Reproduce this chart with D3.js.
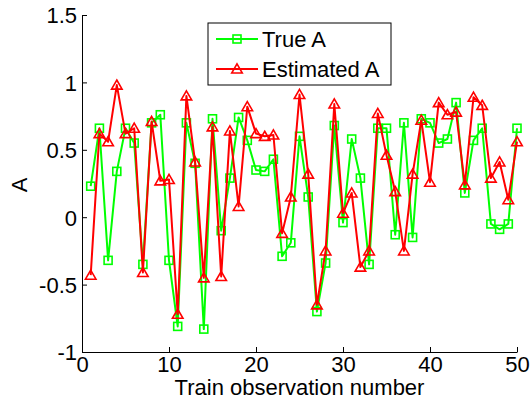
<!DOCTYPE html>
<html>
<head>
<meta charset="utf-8">
<script src="https://cdn.jsdelivr.net/npm/d3@7"></script>
<style>
  body { margin: 0; background: #fff; }
  text { font-family: "Liberation Sans", Arial, sans-serif; fill: #000; }
</style>
</head>
<body>
<div id="chart"></div>
<script>
var obs = d3.range(1, 51);
var trueA = [0.23, 0.66, -0.32, 0.34, 0.66, 0.55, -0.35, 0.70, 0.76, -0.32,
             -0.81, 0.70, 0.40, -0.83, 0.73, -0.10, 0.29, 0.74, 0.57, 0.35,
             0.34, 0.43, -0.29, -0.19, 0.60, 0.15, -0.70, -0.34, 0.68, -0.04,
             0.58, 0.29, -0.35, 0.66, 0.66, -0.13, 0.70, -0.15, 0.73, 0.70,
             0.55, 0.58, 0.85, 0.18, 0.57, 0.66, -0.05, -0.09, -0.05, 0.66];
var estA = [-0.43, 0.62, 0.56, 0.98, 0.62, 0.66, -0.41, 0.71, 0.27, 0.28,
            -0.72, 0.90, 0.41, -0.45, 0.67, -0.44, 0.64, 0.08, 0.82, 0.62,
            0.60, 0.61, -0.12, 0.15, 0.91, 0.32, -0.65, -0.25, 0.84, 0.03,
            0.18, -0.37, -0.25, 0.77, 0.46, 0.19, -0.25, 0.32, 0.72, 0.26,
            0.85, 0.76, 0.78, 0.24, 0.89, 0.83, 0.29, 0.41, 0.13, 0.56];
var xTicks = [0, 10, 20, 30, 40, 50];
var yTicks = [-1, -0.5, 0, 0.5, 1, 1.5];
var seriesNames = ["True A", "Estimated A"];

var totalWidth = 530, totalHeight = 407,
    margin = {top: 15, right: 13, bottom: 55, left: 82},
    width = totalWidth - margin.left - margin.right,
    height = totalHeight - margin.top - margin.bottom;

var x = d3.scaleLinear().domain([0, 50]).range([0, width]),
    y = d3.scaleLinear().domain([-1, 1.5]).range([height, 0]);

var svg = d3.select("#chart").append("svg")
    .attr("width", totalWidth)
    .attr("height", totalHeight)
  .append("g")
    .attr("transform", "translate(" + margin.left + "," + margin.top + ")");

// axes (matlab style: ticks inside, box off)
var fmt = function(d) { return String(d); };   // plain hyphen for negatives
var xAxis = svg.append("g")
    .attr("transform", "translate(0," + height + ")")
    .call(d3.axisBottom(x).tickValues(xTicks).tickSizeInner(-5).tickSizeOuter(0).tickPadding(4).tickFormat(fmt));
var yAxis = svg.append("g")
    .call(d3.axisLeft(y).tickValues(yTicks).tickSizeInner(-5).tickSizeOuter(0).tickPadding(5).tickFormat(fmt));
svg.selectAll(".tick text").style("font-size", "22px").style("font-family", "'Liberation Sans', Arial, sans-serif").attr("fill", "#000");
xAxis.selectAll(".tick text").attr("dy", "0.72em").attr("y", 4);
yAxis.selectAll(".tick text").attr("dy", "0.36em");
svg.selectAll(".domain, .tick line").attr("stroke", "#000").attr("stroke-width", 1);

var colors = ["#00ff00", "#ff0000"];
var data = [trueA, estA];

var line = d3.line()
    .x(function(d, i) { return x(obs[i]); })
    .y(function(d) { return y(d); });

var tri = d3.symbol().type(d3.symbolTriangle).size(48);

function drawMarker(g, kind, cx, cy, col) {
  if (kind == 0) {
    g.append("rect")
      .attr("x", cx - 4).attr("y", cy - 4)
      .attr("width", 8).attr("height", 8)
      .attr("fill", "none").attr("stroke", col).attr("stroke-width", 1.6);
  } else {
    g.append("path")
      .attr("d", tri())
      .attr("transform", "translate(" + cx + "," + (cy + 1) + ")")
      .attr("fill", "none").attr("stroke", col).attr("stroke-width", 1.6)
      .attr("stroke-linejoin", "miter");
  }
}

data.forEach(function(vals, k) {
  svg.append("path")
    .datum(vals)
    .attr("fill", "none")
    .attr("stroke", colors[k])
    .attr("stroke-width", 2)
    .attr("stroke-linejoin", "round")
    .attr("d", line);
  var mg = svg.append("g");
  vals.forEach(function(v, i) { drawMarker(mg, k, x(obs[i]), y(v), colors[k]); });
});

// legend
var leg = svg.append("g").attr("transform", "translate(" + (208 - margin.left) + "," + (23 - margin.top) + ")");
leg.append("rect")
  .attr("width", 183).attr("height", 62)
  .attr("fill", "#fff").attr("stroke", "#000").attr("stroke-width", 1);
seriesNames.forEach(function(name, k) {
  var cy = 16 + k * 30;
  leg.append("line")
    .attr("x1", 8).attr("x2", 50).attr("y1", cy).attr("y2", cy)
    .attr("stroke", colors[k]).attr("stroke-width", 2);
  drawMarker(leg, k, 29, cy, colors[k]);
  leg.append("text")
    .attr("x", 54).attr("y", cy + 8)
    .style("font-size", "22px")
    .text(name);
});

// labels
svg.append("text")
  .attr("x", width / 2)
  .attr("y", height + 43)
  .style("text-anchor", "middle")
  .style("font-size", "22px")
  .text("Train observation number");
svg.append("text")
  .attr("transform", "translate(" + (27 - margin.left) + "," + (185 - margin.top) + ") rotate(-90)")
  .style("text-anchor", "middle")
  .style("font-size", "22px")
  .text("A");
</script>
</body>
</html>
